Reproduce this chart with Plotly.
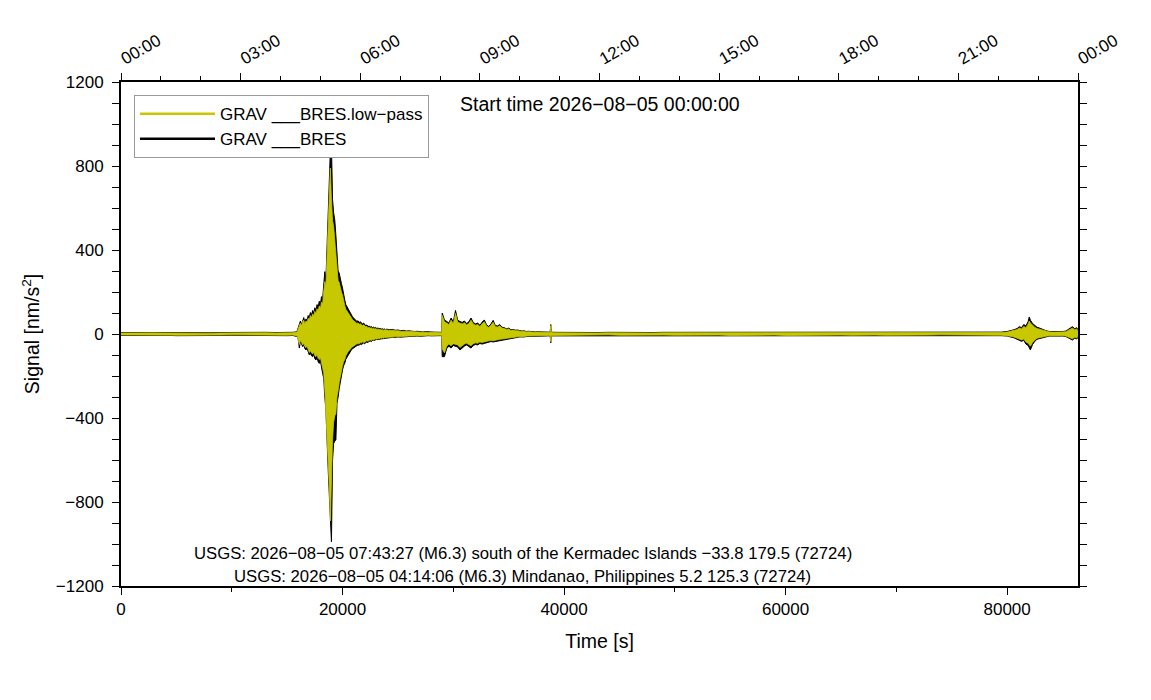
import plotly.graph_objects as go

# Envelope of both records.
# time in s, signal in nm/s^2 (upper and lower edge of the trace)
time_s = [
    # quiet start
    0, 1000, 2000, 3000, 4000, 5000, 6000, 7000, 8000, 9000,
    10000, 11000, 12000, 13000, 14000, 15000, 15500,
    # Mindanao event
    15800, 15900, 16000, 16100, 16200, 16300, 16400, 16500, 16600, 16700,
    16800, 16900, 17000, 17100, 17200, 17300, 17400, 17500, 17600, 17700,
    17800, 17900, 18000, 18100, 18200, 18300, 18400, 18500, 18600, 18700,
    18800, 18900, 19000, 19100, 19200, 19300, 19400, 19500, 19600, 19700,
    19800, 19900, 20000, 20100, 20200, 20300, 20400, 20500, 20600, 20700,
    20800, 20900, 21000, 21100, 21200, 21300, 21400, 21500, 21600, 21700,
    21800, 21900, 22000, 22100, 22200, 22300, 22400, 22500, 22600, 22700,
    22800, 22900, 23000, 23100, 23200, 23300, 23400, 23500, 23600, 23700,
    23800, 23900, 24000,
    # coda
    24250, 24500, 24750, 25000, 25250, 25500, 25750, 26000, 26250, 26500,
    26750, 27000, 27250, 27500, 27750, 28000, 28250, 28500, 28750,
    # Kermadec event
    28950, 29000, 29200, 29400, 29600, 29800, 30000, 30200, 30400, 30600,
    30800, 31000, 31200, 31400, 31600, 31800, 32000, 32200, 32400, 32600,
    32800, 33000, 33200, 33400, 33600, 33800, 34000, 34200, 34400, 34600,
    34800, 35000, 35200, 35400, 35600, 35800, 36000, 36200, 36400, 36600,
    36800, 37000, 37200, 37400, 37600, 37800, 38000,
    # small spike
    38600, 38750, 38800, 38850, 39000,
    # quiet middle
    40000, 41000, 42000, 43000, 44000, 45000, 46000, 47000, 48000, 49000,
    50000, 51000, 52000, 53000, 54000, 55000, 56000, 57000, 58000, 59000,
    60000, 61000, 62000, 63000, 64000, 65000, 66000, 67000, 68000, 69000,
    70000, 71000, 72000, 73000, 74000, 75000, 76000, 77000, 78000, 79000,
    # late event and end
    79500, 80000, 80300, 80600, 80900, 81100, 81300, 81500, 81700, 81900,
    82000, 82100, 82300, 82500, 82700, 82900, 83200, 83500, 83800, 84200,
    84600, 85000, 85300, 85500, 85700, 85900, 86100, 86300, 86400,
]

raw_hi = [
    7, 6, 8, 6, 7, 6, 8, 7, 6, 7,
    8, 6, 7, 8, 7, 6, 8,
    10, 14, 30, 48, 62, 45, 70, 78, 55, 72,
    66, 88, 80, 102, 90, 112, 100, 125, 112, 140,
    128, 156, 140, 178, 165, 230, 297, 260, 400, 520,
    735, 870, 900, 640, 576, 543, 470, 400, 300, 290,
    257, 240, 219, 180, 162, 140, 130, 118, 105, 100,
    88, 82, 76, 70, 67, 60, 63, 55, 58, 52,
    48, 52, 44, 40, 43, 35, 38, 33, 36, 30,
    33, 29, 31, 26, 29, 25, 27, 23, 26, 22,
    24, 21, 23,
    20, 22, 18, 19, 16, 17, 14, 15, 13, 12,
    13, 11, 10, 11, 9, 10, 9, 8, 9,
    8, 100, 67, 60, 52, 76, 58, 112, 65, 60,
    55, 62, 50, 58, 76, 55, 48, 52, 42, 56,
    67, 44, 36, 48, 65, 40, 38, 45, 32, 30,
    25, 28, 20, 22, 18, 19, 15, 14, 15, 12,
    13, 11, 12, 10, 11, 9, 10,
    9, 10, 45, 10, 8,
    7, 8, 6, 7, 8, 7, 6, 8, 7, 8,
    8, 9, 7, 8, 9, 8, 9, 8, 7, 9,
    8, 9, 8, 7, 9, 8, 8, 7, 8, 7,
    8, 7, 6, 7, 8, 7, 6, 7, 8, 9,
    9, 12, 15, 20, 26, 35, 30, 45, 38, 60,
    81, 66, 50, 40, 32, 29, 22, 16, 12, 11,
    10, 12, 14, 20, 28, 35, 25, 30, 15,
]

raw_lo = [
    -7, -8, -6, -7, -6, -8, -7, -6, -8, -7,
    -6, -7, -8, -6, -7, -8, -7,
    -10, -12, -25, -67, -35, -48, -60, -52, -70, -76,
    -68, -85, -100, -92, -104, -108, -98, -118, -124, -112,
    -132, -140, -128, -160, -187, -210, -300, -362, -480, -640,
    -759, -895, -989, -600, -521, -510, -505, -330, -300, -260,
    -219, -200, -171, -150, -140, -120, -108, -98, -90, -85,
    -76, -70, -66, -62, -58, -55, -52, -54, -48, -50,
    -45, -43, -47, -40, -38, -41, -35, -33, -36, -31,
    -29, -31, -27, -29, -25, -27, -23, -25, -22, -24,
    -20, -22, -19,
    -18, -16, -17, -14, -15, -13, -14, -12, -11, -12,
    -10, -11, -9, -10, -8, -9, -8, -9, -8,
    -8, -108, -108, -70, -58, -67, -55, -60, -62, -76,
    -65, -58, -52, -60, -67, -55, -50, -52, -45, -48,
    -45, -40, -38, -36, -38, -34, -32, -30, -28, -26,
    -24, -22, -20, -19, -18, -16, -14, -13, -14, -12,
    -12, -11, -10, -11, -10, -9, -9,
    -9, -9, -42, -9, -8,
    -7, -6, -8, -7, -6, -8, -7, -6, -8, -7,
    -8, -7, -9, -8, -7, -9, -8, -9, -8, -7,
    -9, -8, -7, -9, -8, -7, -8, -9, -7, -8,
    -7, -6, -8, -7, -6, -7, -8, -7, -7, -8,
    -8, -10, -14, -18, -24, -29, -35, -30, -48, -55,
    -62, -76, -50, -35, -25, -19, -18, -14, -10, -11,
    -9, -10, -12, -16, -22, -29, -20, -24, -12,
]

lp_hi = [
    5, 4, 6, 5, 5, 4, 6, 5, 4, 5,
    6, 5, 5, 6, 5, 4, 6,
    8, 11, 25, 40, 52, 38, 60, 66, 46, 62,
    56, 75, 68, 88, 77, 96, 86, 108, 96, 120,
    110, 134, 120, 152, 142, 200, 250, 230, 368, 500,
    720, 790, 640, 540, 511, 448, 380, 320, 255, 245,
    215, 200, 185, 150, 136, 118, 110, 100, 88, 84,
    74, 69, 64, 59, 56, 50, 53, 46, 49, 44,
    40, 44, 37, 34, 36, 29, 32, 28, 30, 25,
    28, 24, 26, 22, 24, 21, 23, 19, 22, 18,
    20, 18, 19,
    17, 18, 15, 16, 13, 14, 12, 12, 11, 10,
    10, 9, 8, 9, 7, 8, 7, 6, 7,
    6, 88, 58, 52, 45, 66, 50, 98, 56, 52,
    48, 54, 44, 50, 66, 48, 42, 45, 36, 48,
    58, 38, 31, 42, 56, 35, 33, 39, 28, 26,
    22, 24, 17, 19, 15, 16, 13, 12, 13, 10,
    11, 9, 10, 8, 9, 7, 8,
    7, 8, 40, 8, 6,
    5, 6, 5, 5, 6, 5, 4, 6, 5, 6,
    6, 7, 5, 6, 7, 6, 7, 6, 5, 7,
    6, 7, 6, 5, 7, 6, 6, 5, 6, 5,
    6, 5, 4, 5, 6, 5, 4, 5, 6, 7,
    7, 9, 12, 16, 21, 28, 24, 36, 30, 48,
    62, 52, 40, 32, 26, 23, 18, 13, 10, 9,
    8, 10, 11, 16, 23, 28, 20, 24, 12,
]

lp_lo = [
    -5, -6, -4, -5, -5, -6, -5, -4, -6, -5,
    -4, -5, -6, -4, -5, -6, -5,
    -8, -10, -21, -50, -30, -40, -52, -45, -60, -65,
    -58, -74, -88, -80, -90, -95, -86, -103, -108, -98,
    -116, -122, -112, -140, -165, -185, -265, -330, -440, -600,
    -720, -890, -700, -500, -420, -390, -378, -299, -270, -232,
    -190, -175, -150, -132, -122, -104, -94, -85, -78, -73,
    -65, -60, -57, -53, -50, -47, -45, -46, -41, -43,
    -38, -37, -40, -34, -32, -35, -30, -28, -31, -26,
    -25, -26, -23, -25, -21, -23, -19, -21, -18, -20,
    -17, -19, -16,
    -15, -13, -14, -12, -12, -11, -11, -10, -9, -10,
    -8, -9, -7, -8, -6, -7, -6, -7, -6,
    -6, -70, -90, -58, -48, -56, -46, -50, -52, -64,
    -54, -48, -44, -50, -56, -46, -42, -44, -38, -40,
    -38, -34, -32, -30, -32, -29, -27, -25, -24, -22,
    -20, -19, -17, -16, -15, -13, -12, -11, -12, -10,
    -10, -9, -8, -9, -8, -7, -7,
    -7, -7, -36, -7, -6,
    -5, -4, -6, -5, -4, -6, -5, -4, -6, -5,
    -6, -5, -7, -6, -5, -7, -6, -7, -6, -5,
    -7, -6, -5, -7, -6, -5, -6, -7, -5, -6,
    -5, -4, -6, -5, -4, -5, -6, -5, -5, -6,
    -6, -8, -11, -14, -19, -23, -28, -24, -38, -44,
    -48, -58, -40, -28, -20, -15, -14, -11, -8, -9,
    -7, -8, -10, -13, -18, -23, -16, -19, -10,
]

assert len(time_s) == len(raw_hi) == len(raw_lo) == len(lp_hi) == len(lp_lo)

hour_ticks = [0, 10800, 21600, 32400, 43200, 54000, 64800, 75600, 86400]
hour_labels = ["00:00", "03:00", "06:00", "09:00", "12:00", "15:00", "18:00", "21:00", "00:00"]

raw_label = "GRAV ___BRES"
lp_label = "GRAV ___BRES.low\u2212pass"
start_text = "Start time 2026\u221208\u221205 00:00:00"
events = [
    "USGS: 2026\u221208\u221205 07:43:27 (M6.3) south of the Kermadec Islands \u221233.8 179.5 (72724)",
    "USGS: 2026\u221208\u221205 04:14:06 (M6.3) Mindanao, Philippines 5.2 125.3 (72724)",
]

YELLOW = "#c8c800"
FONT = "Liberation Sans"

fig = go.Figure()

# raw record behind, low-pass on top
fig.add_trace(
    go.Scatter(
        x=time_s + time_s[::-1],
        y=raw_hi + raw_lo[::-1],
        fill="toself",
        fillcolor="black",
        line=dict(color="black", width=1),
        mode="lines",
        showlegend=False,
        hoverinfo="skip",
    )
)
fig.add_trace(
    go.Scatter(
        x=time_s + time_s[::-1],
        y=lp_hi + lp_lo[::-1],
        fill="toself",
        fillcolor=YELLOW,
        line=dict(color=YELLOW, width=0.8),
        mode="lines",
        showlegend=False,
        hoverinfo="skip",
    )
)

# legend entries
fig.add_trace(go.Scatter(x=[None], y=[None], mode="lines", name=lp_label,
                         line=dict(color=YELLOW, width=2.5)))
fig.add_trace(go.Scatter(x=[None], y=[None], mode="lines", name=raw_label,
                         line=dict(color="black", width=2.5)))

# carrier for the top (clock time) axis
fig.add_trace(go.Scatter(x=[0, 86400], y=[None, None], xaxis="x2", showlegend=False,
                         hoverinfo="skip"))

fig.add_annotation(text=start_text, xref="paper", yref="paper", x=0.5, y=0.956,
                   yanchor="middle", showarrow=False,
                   font=dict(size=19.5, color="black", family=FONT))
fig.add_annotation(text=events[0], xref="paper", yref="paper", x=0.42, y=0.0635,
                   yanchor="middle", showarrow=False,
                   font=dict(size=16.7, color="black", family=FONT))
fig.add_annotation(text=events[1], xref="paper", yref="paper", x=0.42, y=0.0198,
                   yanchor="middle", showarrow=False,
                   font=dict(size=16.7, color="black", family=FONT))

axis_common = dict(
    showline=True,
    linecolor="black",
    linewidth=2,
    ticks="outside",
    ticklen=7,
    tickwidth=1,
    tickcolor="black",
    showgrid=False,
    zeroline=False,
    automargin=False,
    tickfont=dict(size=17, color="black", family=FONT),
)

# the page body adds an 8 px offset, so the figure is a little smaller
fig.update_layout(
    width=1135,
    height=684,
    margin=dict(l=113, r=65, t=74, b=106),
    plot_bgcolor="white",
    paper_bgcolor="white",
    font=dict(family=FONT, color="black"),
    xaxis=dict(
        **axis_common,
        range=[0, 86400],
        tickvals=[0, 20000, 40000, 60000, 80000],
        ticktext=["0", "20000", "40000", "60000", "80000"],
        minor=dict(tickvals=[10000, 30000, 50000, 70000], ticklen=4,
                   ticks="outside", tickcolor="black"),
        mirror=True,
        title=dict(text="Time [s]", font=dict(size=19.5, color="black", family=FONT),
                   standoff=16),
    ),
    xaxis2=dict(
        **axis_common,
        range=[0, 86400],
        overlaying="x",
        side="top",
        anchor="y",
        tickvals=hour_ticks,
        ticktext=hour_labels,
        tickangle=-30,
        minor=dict(dtick=3600, tick0=0, ticklen=4, ticks="outside", tickcolor="black"),
    ),
    yaxis=dict(
        **axis_common,
        range=[-1200, 1200],
        tickvals=[-1200, -800, -400, 0, 400, 800, 1200],
        minor=dict(dtick=100, ticklen=4, ticks="outside", tickcolor="black"),
        mirror="allticks",
        ticklabelstandoff=5,
        title=dict(text="Signal [nm/s<sup>2</sup>]",
                   font=dict(size=19.5, color="black", family=FONT), standoff=11),
    ),
    legend=dict(
        x=0.0136,
        y=0.974,
        xanchor="left",
        yanchor="top",
        bgcolor="white",
        bordercolor="#999999",
        borderwidth=1,
        itemwidth=75,
        font=dict(size=17, color="black", family=FONT),
        tracegroupgap=0,
    ),
)

fig.write_html("out.html")
